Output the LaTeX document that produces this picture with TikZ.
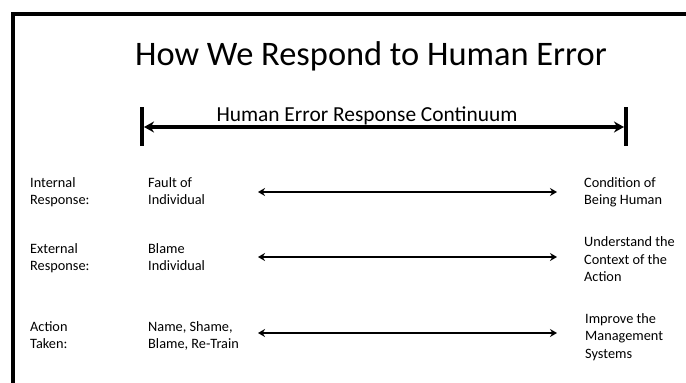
\documentclass[tikz,border=0pt]{standalone}
\usepackage{fontspec}
\setmainfont{Carlito}
\usetikzlibrary{arrows.meta}
\begin{document}
\begin{tikzpicture}[x=1pt,y=-1pt,
  rowtext/.style={anchor=base west,align=left,inner sep=0pt,font=\fontsize{14.3}{17.5}\selectfont},
  bar/.style={line width=4pt},
  spanarrow/.style={line width=4pt,{Stealth[length=10pt,width=11pt]}-{Stealth[length=10pt,width=11pt]}},
  rowarrow/.style={line width=2.6pt,{Stealth[length=7pt,width=8pt]}-{Stealth[length=7pt,width=8pt]}}]
\useasboundingbox (0,0) rectangle (686,383);
\clip (0,0) rectangle (686,383);
\draw[line width=4pt] (13,14) rectangle (700,400);
\node[anchor=base,inner sep=0pt,font=\fontsize{34.4}{40}\selectfont] (title) at (371,65) {How We Respond to Human Error};
% continuum
\node[anchor=base,inner sep=0pt,font=\fontsize{21.4}{25}\selectfont] (cont) at (367,121) {Human Error Response Continuum};
\coordinate (cleft) at (144,127);
\coordinate (cright) at (624,127);
\draw[bar] (142,107) -- (142,146);
\draw[bar] (626,107) -- (626,146);
\draw[spanarrow] (cleft) -- (cright);
% row 1 (anchored at the last line's baseline)
\node[rowtext] (int) at (30,204.5) {Internal\\Response:};
\node[rowtext] (fault) at (148,204.5) {Fault of\\Individual};
\node[rowtext] (cond) at (584,204.5) {Condition of\\Being Human};
\coordinate (a1) at (258,192);
\coordinate (b1) at (557,192);
\draw[rowarrow] (a1) -- (b1);
% row 2
\node[rowtext] (ext) at (30,270.5) {External\\Response:};
\node[rowtext] (blame) at (148,270.5) {Blame\\Individual};
\node[rowtext] (under) at (584,281.5) {Understand the\\Context of the\\Action};
\coordinate (a2) at (258,257);
\coordinate (b2) at (557,257);
\draw[rowarrow] (a2) -- (b2);
% row 3
\node[rowtext] (act) at (30,348.5) {Action\\Taken:};
\node[rowtext] (name) at (148,348.5) {Name, Shame,\\Blame, Re-Train};
\node[rowtext] (impr) at (585,358) {Improve the\\Management\\Systems};
\coordinate (a3) at (258,333);
\coordinate (b3) at (557,333);
\draw[rowarrow] (a3) -- (b3);
\end{tikzpicture}
\end{document}
